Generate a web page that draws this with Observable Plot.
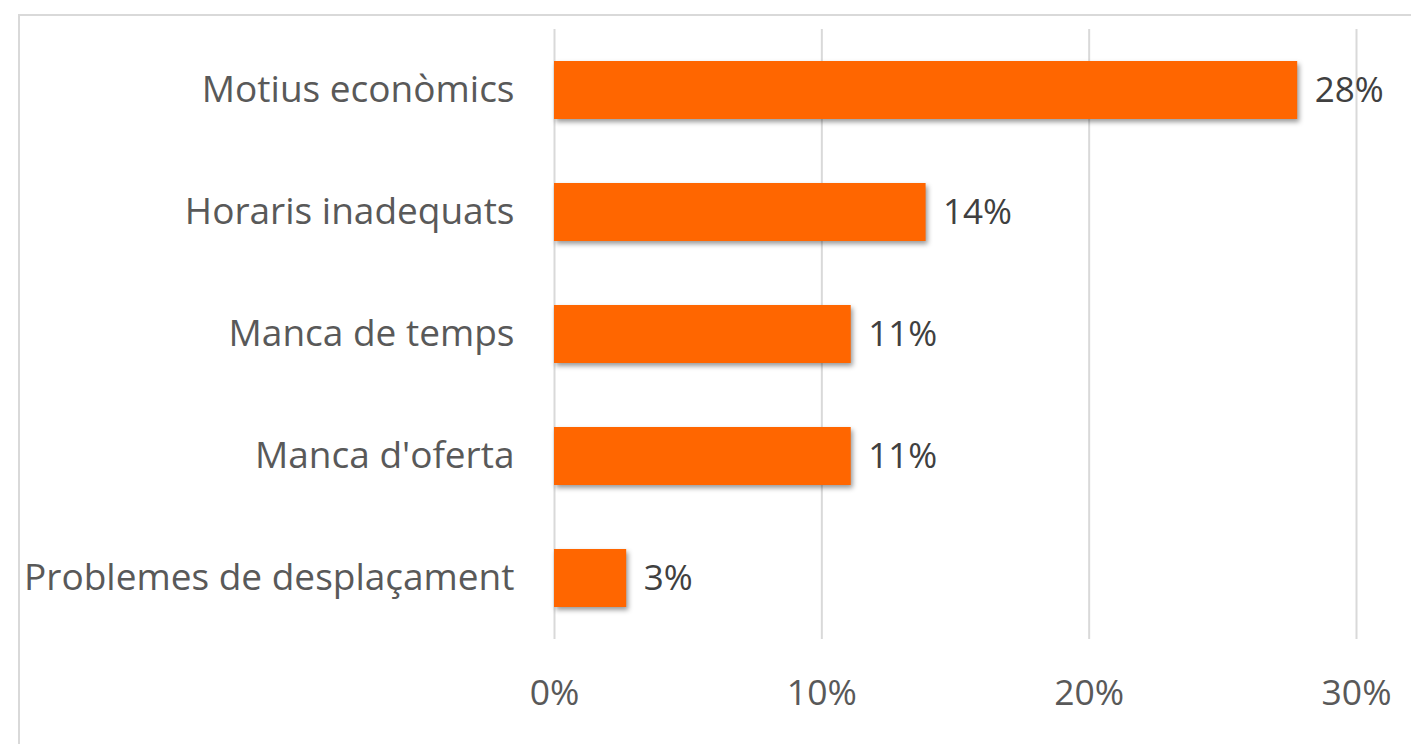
<!DOCTYPE html>
<html>
<head>
<meta charset="utf-8">
<script src="https://cdn.jsdelivr.net/npm/d3@7"></script>
<script src="https://cdn.jsdelivr.net/npm/@observablehq/plot@0.6"></script>
<style>
  html, body { margin: 0; padding: 0; background: #fff; }
  #wrap { position: relative; width: 1411px; height: 744px; overflow: hidden; }
  #frame { position: absolute; left: 18px; top: 14px; width: 1500px; height: 800px;
           border-left: 2px solid #d9d9d9; border-top: 2px solid #d9d9d9; }
  #chart { position: absolute; left: 0; top: 0; }
  #chart g[aria-label="bar"] { filter: drop-shadow(2px 3px 2.5px rgba(0,0,0,0.4)); }
</style>
</head>
<body>
<div id="wrap"><div id="frame"></div><div id="chart"></div></div>
<script>
const categories = ["Motius econòmics", "Horaris inadequats", "Manca de temps", "Manca d'oferta", "Problemes de desplaçament"];
const values = [0.278, 0.139, 0.111, 0.111, 0.027];
const valueLabels = ["28%", "14%", "11%", "11%", "3%"];
const xTicks = [0, 0.1, 0.2, 0.3];
const xTickLabels = ["0%", "10%", "20%", "30%"];

const data = categories.map((c, i) => ({category: c, value: values[i], label: valueLabels[i]}));

const chart = Plot.plot({
  width: 1411,
  height: 744,
  marginLeft: 554,
  marginRight: 55,
  marginTop: 29,
  marginBottom: 105,
  style: {fontFamily: "'Open Sans', sans-serif", background: "transparent", overflow: "visible"},
  x: {domain: [0, 0.3], ticks: xTicks},
  y: {domain: categories, paddingInner: 0.525, paddingOuter: 0.2625, label: null},
  marks: [
    Plot.gridX(xTicks, {stroke: "#d9d9d9", strokeOpacity: 1, strokeWidth: 2}),
    Plot.barX(data, {x: "value", y: "category", fill: "#ff6600"}),
    Plot.text(data, {x: "value", y: "category", text: "label", textAnchor: "start", dx: 17,
                     fontSize: 35, fill: "#404040"}),
    Plot.axisY({tickSize: 0, tickPadding: 40, fontSize: 37, fill: "#595959", label: null}),
    Plot.axisX(xTicks, {tickSize: 0, tickPadding: 40, fontSize: 35.5, fill: "#595959", label: null,
                        tickFormat: (d) => xTickLabels[xTicks.indexOf(d)]})
  ]
});
document.getElementById("chart").appendChild(chart);
</script>
</body>
</html>
